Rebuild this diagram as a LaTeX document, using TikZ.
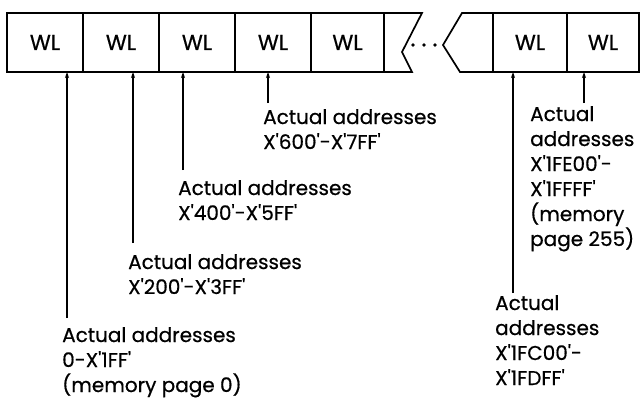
\documentclass[tikz,border=0pt]{standalone}
\usepackage{fontspec}
\setmainfont{Poppins}[Ligatures=TeXOff, FakeBold=0.6]
\usetikzlibrary{arrows.meta, positioning}

\begin{document}
\begin{tikzpicture}[x=1pt, y=-1pt,
    cell/.style={draw, line width=1.7pt, minimum width=76pt, minimum height=59pt,
                 inner sep=0pt, outer sep=0pt, font=\fontsize{21.5}{24}\selectfont},
    lbl/.style={anchor=north west, align=left, inner sep=0pt,
                font=\fontsize{20}{25}\selectfont},
    arrow/.style={-{Stealth[length=6pt, width=4pt]}, line width=1.2pt},
    edge/.style={line width=1.7pt, line join=miter},
    node distance=0pt,
]
\useasboundingbox (0,0) rectangle (640,404);

% word line cells
\node[cell] (w1) at (45,42.5) {WL};
\node[cell, right=of w1] (w2) {WL};
\node[cell, right=of w2] (w3) {WL};
\node[cell, right=of w3] (w4) {WL};
\node[cell, minimum width=73pt, right=of w4] (w5) {WL};
\node[cell, minimum width=74pt] (w7) at (530,42.5) {WL};
\node[cell, minimum width=72pt, right=of w7] (w8) {WL};

% broken part
\draw[edge] (w5.north east) -- (422,13) -- (402,52) -- (412,72) -- (w5.south east);
\draw[edge] (w7.north west) -- (462,13) -- (443,45) -- (460,72) -- (w7.south west);
\foreach \x in {413,424,435}
    \fill (\x,45) circle (1.8pt);

% address labels
\node[lbl] (l1) at (62,327) {Actual addresses\\0-X'1FF'\\(memory page 0)};
\node[lbl] (l2) at (128,254) {Actual addresses\\X'200'-X'3FF'};
\node[lbl] (l3) at (178,180) {Actual addresses\\X'400'-X'5FF'};
\node[lbl] (l4) at (263,109) {Actual addresses\\X'600'-X'7FF'};
\node[lbl] (l7) at (495,295) {Actual\\addresses\\X'1FC00'-\\X'1FDFF'};
\node[lbl] (l8) at (530,106) {Actual\\addresses\\X'1FE00'-\\X'1FFFF'\\(memory\\page 255)};

\coordinate (t1) at (67,318);
\coordinate (t2) at (133,243);
\coordinate (t3) at (183,170);
\coordinate (t4) at (268,103);
\coordinate (t7) at (513,293);
\coordinate (t8) at (584,103);

\draw[arrow] (t1) -- (t1 |- w1.south);
\draw[arrow] (t2) -- (t2 |- w2.south);
\draw[arrow] (t3) -- (t3 |- w3.south);
\draw[arrow] (t4) -- (t4 |- w4.south);
\draw[arrow] (t7) -- (t7 |- w7.south);
\draw[arrow] (t8) -- (t8 |- w8.south);
\end{tikzpicture}
\end{document}
